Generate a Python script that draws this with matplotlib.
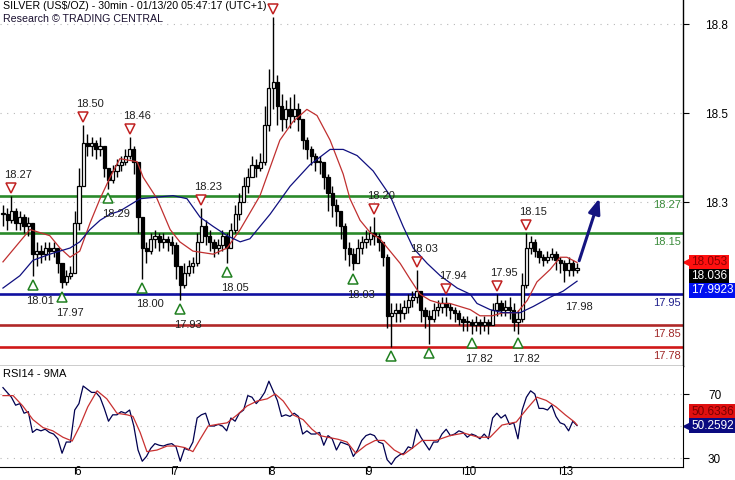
import matplotlib
matplotlib.use('Agg')
import matplotlib.pyplot as plt
import matplotlib.transforms as mtrans

plt.rcParams['font.family'] = ['Liberation Sans', 'DejaVu Sans']

# hourly bars, index 0 = first bar on the left
close = [18.21, 18.19, 18.22, 18.18, 18.20, 18.17, 18.18, 18.08, 18.09, 18.08,
         18.10, 18.09, 18.10, 18.05, 17.99, 18.01, 18.02, 18.18, 18.30, 18.44,
         18.43, 18.44, 18.42, 18.43, 18.36, 18.32, 18.35, 18.37, 18.38, 18.40,
         18.42, 18.38, 18.20, 18.10, 18.09, 18.13, 18.14, 18.12, 18.13, 18.12,
         18.11, 18.04, 17.98, 18.02, 18.04, 18.05, 18.12, 18.17, 18.14, 18.12,
         18.10, 18.11, 18.14, 18.10, 18.16, 18.21, 18.25, 18.30, 18.33, 18.37,
         18.36, 18.38, 18.50, 18.62, 18.64, 18.56, 18.52, 18.55, 18.53, 18.55,
         18.52, 18.45, 18.42, 18.40, 18.38, 18.38, 18.33, 18.28, 18.24, 18.22,
         18.17, 18.10, 18.08, 18.05, 18.10, 18.12, 18.13, 18.15, 18.14, 18.12,
         18.07, 17.88, 17.89, 17.90, 17.89, 17.91, 17.93, 17.94, 17.96, 17.90,
         17.88, 17.87, 17.90, 17.91, 17.92, 17.91, 17.90, 17.89, 17.87, 17.86,
         17.86, 17.85, 17.86, 17.85, 17.86, 17.85, 17.90, 17.92, 17.90, 17.91,
         17.90, 17.86, 17.87, 17.98, 18.10, 18.12, 18.09, 18.07, 18.06, 18.07,
         18.08, 18.06, 18.05, 18.03, 18.05, 18.03, 18.036]
high = [18.24, 18.23, 18.27, 18.23, 18.22, 18.21, 18.20, 18.16, 18.12, 18.11,
        18.12, 18.12, 18.12, 18.10, 18.04, 18.03, 18.04, 18.22, 18.36, 18.50,
        18.47, 18.46, 18.45, 18.46, 18.43, 18.36, 18.37, 18.39, 18.40, 18.42,
        18.46, 18.43, 18.37, 18.18, 18.12, 18.15, 18.16, 18.15, 18.15, 18.14,
        18.14, 18.12, 18.04, 18.05, 18.06, 18.07, 18.15, 18.23, 18.19, 18.16,
        18.13, 18.13, 18.16, 18.15, 18.18, 18.24, 18.28, 18.33, 18.36, 18.40,
        18.39, 18.41, 18.56, 18.68, 18.85, 18.66, 18.60, 18.58, 18.59, 18.60,
        18.57, 18.52, 18.46, 18.43, 18.41, 18.40, 18.37, 18.34, 18.30, 18.26,
        18.22, 18.18, 18.12, 18.10, 18.13, 18.14, 18.16, 18.17, 18.20, 18.15,
        18.12, 18.08, 17.92, 17.92, 17.92, 17.93, 17.95, 17.96, 18.03, 17.95,
        17.91, 17.90, 17.92, 17.93, 17.94, 17.94, 17.92, 17.91, 17.90, 17.88,
        17.88, 17.87, 17.88, 17.87, 17.88, 17.87, 17.92, 17.95, 17.93, 17.93,
        17.94, 17.92, 17.90, 18.02, 18.15, 18.14, 18.13, 18.10, 18.08, 18.09,
        18.10, 18.09, 18.07, 18.06, 18.07, 18.06, 18.05]
low = [18.17, 18.16, 18.18, 18.16, 18.16, 18.15, 18.14, 18.01, 18.04, 18.05,
       18.06, 18.06, 18.07, 18.02, 17.97, 17.98, 18.00, 18.05, 18.16, 18.30,
       18.40, 18.40, 18.39, 18.40, 18.33, 18.29, 18.31, 18.33, 18.35, 18.37,
       18.39, 18.34, 18.15, 18.00, 18.05, 18.08, 18.10, 18.09, 18.10, 18.09,
       18.08, 18.00, 17.93, 17.97, 18.01, 18.02, 18.04, 18.12, 18.11, 18.09,
       18.07, 18.08, 18.09, 18.05, 18.10, 18.15, 18.19, 18.25, 18.28, 18.33,
       18.33, 18.35, 18.37, 18.48, 18.55, 18.50, 18.48, 18.49, 18.49, 18.51,
       18.48, 18.42, 18.39, 18.37, 18.35, 18.34, 18.29, 18.22, 18.20, 18.17,
       18.13, 18.06, 18.04, 18.03, 18.06, 18.08, 18.10, 18.11, 18.11, 18.09,
       18.04, 17.84, 17.78, 17.86, 17.86, 17.87, 17.89, 17.91, 17.92, 17.86,
       17.84, 17.79, 17.86, 17.88, 17.89, 17.88, 17.87, 17.86, 17.85, 17.83,
       17.83, 17.82, 17.83, 17.82, 17.83, 17.82, 17.85, 17.88, 17.88, 17.88,
       17.87, 17.83, 17.82, 17.86, 17.97, 18.08, 18.07, 18.05, 18.04, 18.05,
       18.06, 18.03, 18.02, 17.99, 18.01, 18.01, 18.02]

day_pos = [17, 40, 63, 86, 109, 132]
day_lbl = ['6', '7', '8', '9', '10', '13']

price_ticks = [18.826, 18.537, 18.249]
price_tick_lbl = ['18.8', '18.5', '18.3']

# moving averages (red fast, navy slow), bar index / value
ma_fast_x = [0, 6.4, 11.1, 13.5, 15.9, 18.2, 20.6, 23, 25.4, 27.7, 31.8, 33.2,
             36.5, 39.6, 41.9, 45, 49.8, 53.1, 56.2, 60.9, 65.6, 68.7, 72, 74.4,
             77.5, 80.6, 82.2, 84.6, 87, 89.3, 91.7, 94.1, 96.4, 98.8, 101.2,
             103.6, 105.9, 110.7, 113, 115.9, 118.5, 121.8, 124.2, 126.5, 129.6,
             132, 133.6, 136]
ma_fast = [18.055, 18.16, 18.14, 18.10, 18.07, 18.09, 18.18, 18.26, 18.33, 18.39,
           18.38, 18.33, 18.26, 18.16, 18.12, 18.09, 18.08, 18.10, 18.16, 18.27,
           18.45, 18.51, 18.55, 18.53, 18.45, 18.34, 18.26, 18.19, 18.15, 18.13,
           18.09, 18.05, 18.00, 17.95, 17.93, 17.92, 17.92, 17.90, 17.88, 17.88,
           17.89, 17.89, 17.93, 17.99, 18.03, 18.07, 18.07, 18.053]
ma_slow_x = [0, 4, 7.1, 11.1, 13.5, 15.9, 18.2, 20.6, 23, 25.4, 27.7, 32.5, 40.3,
             43.6, 46.7, 49.8, 53.1, 56.2, 58.5, 63.3, 68, 72.7, 77.5, 80.6, 83.9,
             87.7, 91.7, 94.8, 97.2, 100.5, 103.6, 107.6, 110.7, 112.3, 115.4,
             118.5, 122.5, 125.6, 129.6, 132.7, 136]
ma_slow = [17.97, 18.01, 18.06, 18.08, 18.09, 18.10, 18.12, 18.16, 18.19, 18.21,
           18.22, 18.26, 18.27, 18.26, 18.20, 18.17, 18.14, 18.12, 18.13, 18.21,
           18.30, 18.37, 18.42, 18.42, 18.40, 18.35, 18.27, 18.17, 18.10, 18.05,
           18.01, 17.97, 17.95, 17.92, 17.90, 17.89, 17.89, 17.91, 17.94, 17.96,
           17.9923]

levels = [18.27, 18.15, 17.95, 17.85, 17.78]
level_lbl = ['18.27', '18.15', '17.95', '17.85', '17.78']
level_colors = ['#2a8a2a', '#2a8a2a', '#1010a0', '#b02828', '#d01818']
level_text_colors = ['#3c8c3c', '#3c8c3c', '#20208c', '#a02828', '#a02828']

peaks_x = [2, 19, 30, 47, 64, 88, 98, 105, 117, 124]
peaks_v = [18.27, 18.50, 18.46, 18.23, 18.85, 18.20, 18.03, 17.94, 17.95, 18.15]
peaks_lbl = ['18.27', '18.50', '18.46', '18.23', '', '18.20', '18.03', '17.94',
             '17.95', '18.15']
troughs_x = [7, 14, 25, 33, 42, 53, 83, 92, 101, 111, 122]
troughs_v = [18.01, 17.97, 18.29, 18.00, 17.93, 18.05, 18.03, 17.78, 17.79, 17.82, 17.82]
troughs_lbl = ['18.01', '17.97', '18.29', '18.00', '17.93', '18.05', '18.03', '', '',
               '17.82', '17.82']

arrow_from = (136.3, 18.05)
arrow_to = (141.5, 18.27)

last_close = 18.036
ma_fast_last = 18.053
ma_slow_last = 17.9923

# RSI14 per bar and its 9MA
rsi = [74, 71, 68, 63, 64, 58, 59, 46, 48, 47, 48, 46, 45, 42, 33, 40, 40, 60, 64, 75,
       73, 71, 71, 68, 61, 53, 57, 57, 59, 58, 60, 50, 35, 28, 31, 36, 39, 38, 37.5, 38.5,
       39, 37, 28, 36, 35, 40, 55, 57, 58, 50, 50, 51, 50, 47, 55, 53, 58, 60, 69, 68,
       64, 67, 71, 78, 72, 66, 56, 57, 56, 58, 56, 45, 47, 45, 45, 46, 38, 44, 42, 35,
       40, 39, 38, 31, 35, 41, 44, 45, 44, 40, 39, 29, 26, 30, 32, 33, 37, 36, 48, 43,
       39, 35, 40, 40, 45, 48, 44, 45, 47, 46, 43, 45, 44, 42, 45, 42, 55, 58, 55, 57,
       51, 52, 42, 60, 68, 72, 70, 61, 61, 60, 63, 56, 52, 51, 47, 53, 50.2592]
rsi_ma_x = [0, 2.4, 4.7, 7.1, 9.5, 11.8, 14.2, 16.4, 18.2, 20.1, 22.3, 24.6, 27,
            29.4, 30.8, 32.5, 34.1, 36.5, 38.9, 41.2, 43.1, 45, 46.7, 48.6, 50.7,
            53.1, 55.5, 57.8, 60.2, 62.6, 64.5, 66.4, 68.7, 71.1, 73.2, 75.1, 77.5,
            79.4, 81.5, 83.6, 86, 88.2, 90.3, 92.7, 94.8, 96.9, 99.3, 102.6, 105.9,
            109.2, 112.6, 115.4, 118.2, 121.6, 124.2, 126.5, 128.7, 131, 133.2,
            135.4, 136]
rsi_ma = [69, 69, 62.5, 54, 49, 47, 43, 40.6, 50, 62, 72, 67, 58, 57, 56, 46, 34, 35,
          37.5, 37.5, 36.5, 34, 41.7, 50, 51, 52, 57, 62.5, 65.6, 67, 70, 65.6, 57, 54,
          48, 44, 42.7, 41.7, 40, 33, 38, 41, 41, 35, 32, 36, 41, 41, 44, 45.6, 43, 43,
          50.6, 52.5, 61, 68, 66, 62, 57, 52.5, 50.6336]

W, H = 735, 480
fig = plt.figure(figsize=(W / 100, H / 100), dpi=100)
ax = fig.add_axes([0, 1 - 366 / H, 683 / W, 366 / H])
ax2 = fig.add_axes([0, 1 - 467 / H, 683 / W, 101 / H], sharex=ax)

n = len(close)
idx = list(range(n))
opens = [close[0]] + close[:-1]

# candles
ax.vlines(idx, low, high, color='black', lw=1.0, zorder=3)
for i in idx:
    o, c = opens[i], close[i]
    bot, h = min(o, c), max(abs(c - o), 0.004)
    fc = 'white' if c >= o else 'black'
    ax.bar(i, h, bottom=bot, width=0.75, facecolor=fc, edgecolor='black', lw=0.9, zorder=4)

ax.plot(ma_fast_x, ma_fast, color='#c03030', lw=0.9, zorder=5)
ax.plot(ma_slow_x, ma_slow, color='#101080', lw=0.9, zorder=5)

for lv, col, tc, lb in zip(levels, level_colors, level_text_colors, level_lbl):
    ax.axhline(lv, color=col, lw=1.9, zorder=2)
    ax.annotate(lb, xy=(1, lv), xycoords=('axes fraction', 'data'), xytext=(-2, -4),
                textcoords='offset pixels', ha='right', va='top', fontsize=8, color=tc)

for t in price_ticks:
    ax.axhline(t, color='#b8b8b8', lw=0.8, ls=(0, (1, 5)), zorder=1)

# pivot markers
up = ax.transData + mtrans.ScaledTranslation(0, 8 / 100, fig.dpi_scale_trans)
dn = ax.transData + mtrans.ScaledTranslation(0, -9 / 100, fig.dpi_scale_trans)
ax.plot(peaks_x, peaks_v, 'v', transform=up, ms=7, mfc='white', mec='#c02020', mew=1.1, zorder=6)
ax.plot(troughs_x, troughs_v, '^', transform=dn, ms=7, mfc='white', mec='#208020', mew=1.1, zorder=6)
for x, v, lb in zip(peaks_x, peaks_v, peaks_lbl):
    ax.annotate(lb, (x, v), xytext=(7, 21), textcoords='offset pixels', ha='center',
                va='center', fontsize=8, color='#202020', zorder=7)
for x, v, lb in zip(troughs_x, troughs_v, troughs_lbl):
    ax.annotate(lb, (x, v), xytext=(8, -25), textcoords='offset pixels', ha='center',
                va='center', fontsize=8, color='#202020', zorder=7)
ax.annotate('17.98', (n - 1, 17.98), xytext=(2, -22), textcoords='offset pixels',
            ha='center', va='center', fontsize=8, color='#202020')

ax.annotate('', xy=arrow_to, xytext=arrow_from,
            arrowprops=dict(arrowstyle='-|>,head_length=0.9,head_width=0.35',
                            color='#141480', lw=2.2), zorder=8)

ax.set_ylim(17.717, 18.905)
ax.set_xlim(-0.7, 161.1)
ax.yaxis.tick_right()
ax.set_yticks(price_ticks)
ax.set_yticklabels(price_tick_lbl)
ax.tick_params(axis='y', direction='out', length=4, pad=12, labelsize=8.5, width=0.8)
ax.tick_params(axis='x', bottom=False, labelbottom=False)
for s in ['top', 'left']:
    ax.spines[s].set_visible(False)
for s in ['right', 'bottom']:
    ax.spines[s].set_linewidth(1.0)

# price tags right of the axis
tr = mtrans.blended_transform_factory(ax.transAxes, ax.transData)
tags = [(ma_fast_last, '#ff1010', '#8a0000', 0), (last_close, 'black', 'white', -14),
        (ma_slow_last, '#0010f0', 'white', -28)]
for val, bg, fg, dy in tags:
    ax.annotate('%g' % val, xy=(1, ma_fast_last), xycoords=tr, xytext=(8, dy),
                textcoords='offset pixels', ha='left', va='center', fontsize=8.5, color=fg,
                bbox=dict(boxstyle='square,pad=0.15', fc=bg, ec='none'), annotation_clip=False)
ax.plot([1.006], [ma_fast_last], '<', transform=tr, ms=6, color='#ff1010', clip_on=False)

# RSI panel
ax2.plot(idx, rsi, color='#000050', lw=0.9)
ax2.plot(rsi_ma_x, rsi_ma, color='#c83030', lw=0.9)
for g in [70, 50, 30]:
    ax2.axhline(g, color='#b8b8b8', lw=0.8, ls=(0, (1, 5)), zorder=1)
ax2.set_ylim(24.4, 87.5)
ax2.yaxis.tick_right()
ax2.set_yticks([70, 30])
ax2.tick_params(axis='y', direction='out', length=4, pad=14, labelsize=8.5, width=0.8)
ax2.set_xticks(day_pos)
ax2.set_xticklabels(day_lbl)
ax2.tick_params(axis='x', direction='out', length=5, pad=-6, labelsize=8.5, width=0.8)
for lb in ax2.get_xticklabels():
    lb.set_horizontalalignment('left')
ax2.set_xlim(-0.7, 161.1)
for s in ['top', 'left']:
    ax2.spines[s].set_visible(False)
ax2.text(0.004, 0.97, 'RSI14 - 9MA', transform=ax2.transAxes, ha='left', va='top', fontsize=8)

tr2 = mtrans.blended_transform_factory(ax2.transAxes, ax2.transData)
rsi_tags = [(rsi_ma[-1], '#e01010', '#7a0000', 14), (rsi[-1], '#0a0a80', 'white', 0)]
for val, bg, fg, dy in rsi_tags:
    ax2.annotate('%.4f' % val, xy=(1, rsi[-1]), xycoords=tr2, xytext=(8, dy),
                 textcoords='offset pixels', ha='left', va='center', fontsize=8.5, color=fg,
                 bbox=dict(boxstyle='square,pad=0.15', fc=bg, ec='none'), annotation_clip=False)
ax2.plot([1.006], [rsi[-1]], '<', transform=tr2, ms=6, color='#0a0a80', clip_on=False)

fig.text(3 / W, 1 - 1 / H, 'SILVER (US$/OZ) - 30min - 01/13/20 05:47:17 (UTC+1)',
         ha='left', va='top', fontsize=7.7)
fig.text(3 / W, 1 - 14 / H, 'Research \u00a9 TRADING CENTRAL', ha='left', va='top',
         fontsize=7.7, color='#1a1030')

fig.savefig('out.png', dpi=100)
